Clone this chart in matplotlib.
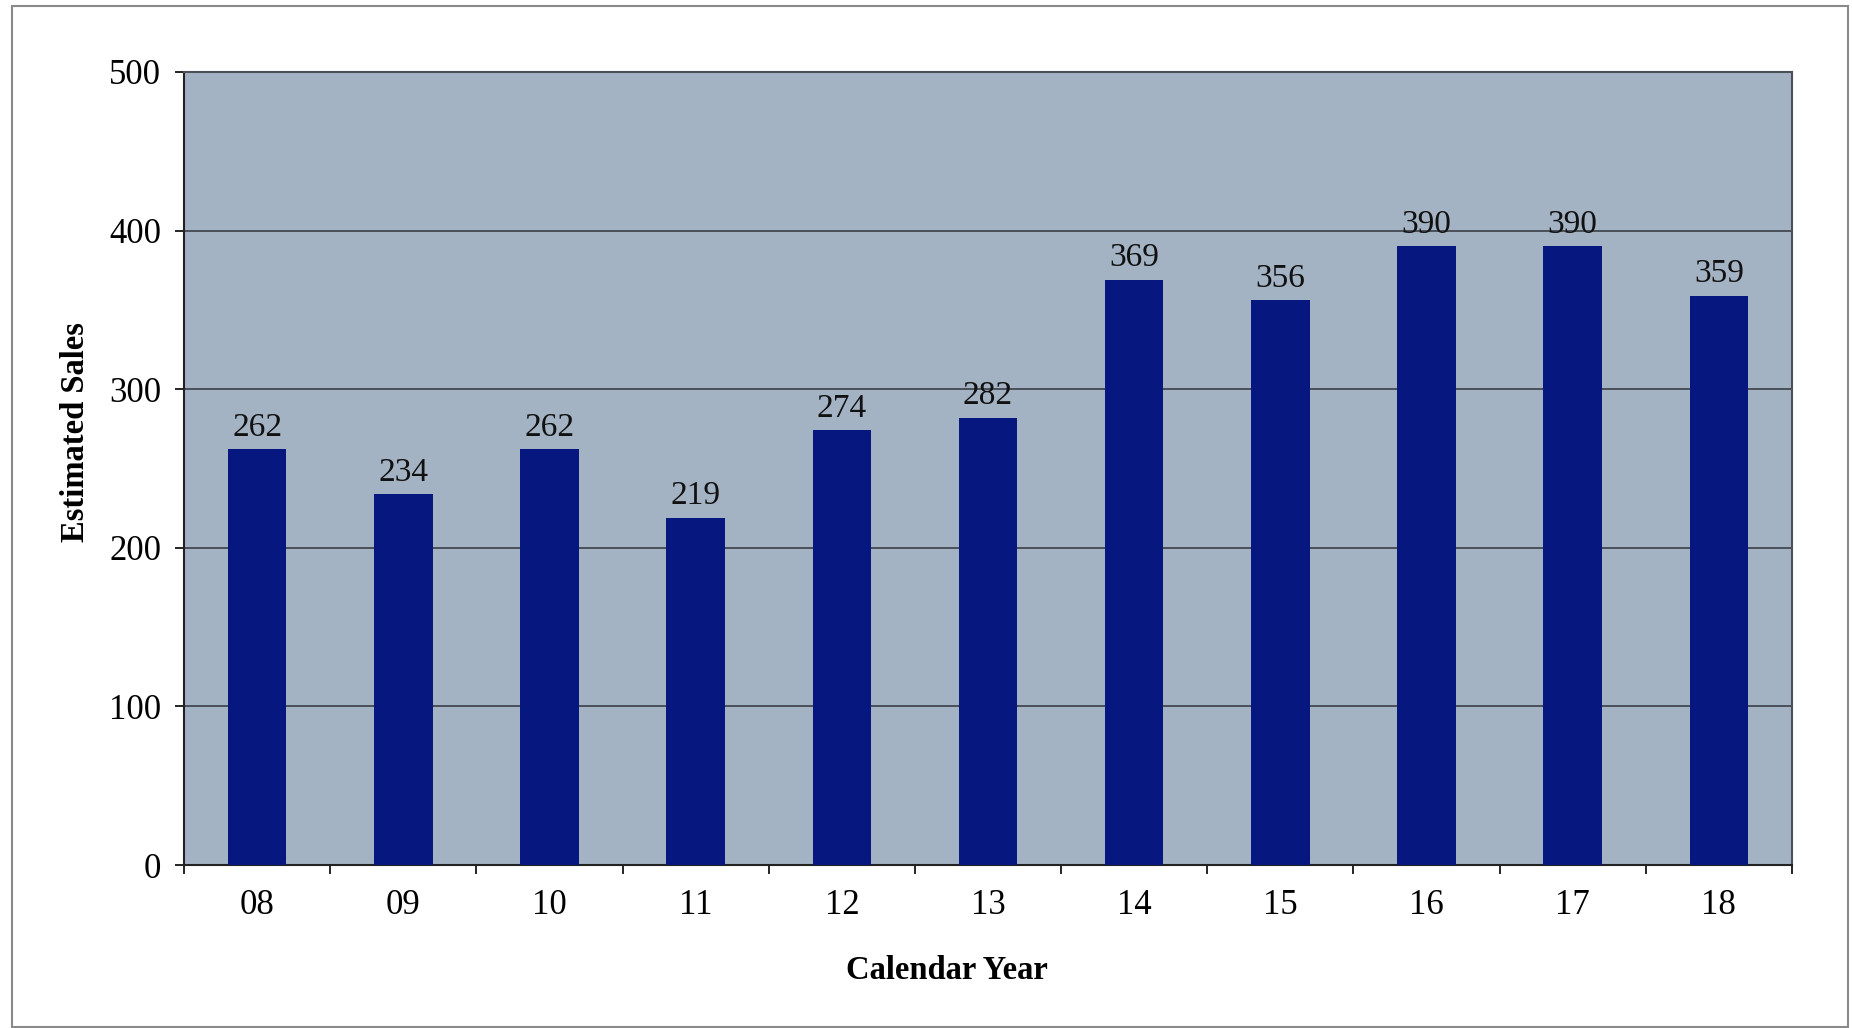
import matplotlib
matplotlib.use("Agg")
import matplotlib.pyplot as plt
from matplotlib.patches import Rectangle

years = ["08", "09", "10", "11", "12", "13", "14", "15", "16", "17", "18"]
sales = [262, 234, 262, 219, 274, 282, 369, 356, 390, 390, 359]
y_ticks = [0, 100, 200, 300, 400, 500]

plt.rcParams["font.family"] = ["Liberation Serif", "DejaVu Serif"]

W, H = 1852, 1028
fig = plt.figure(figsize=(W / 100, H / 100), dpi=100)
fig.patch.set_facecolor("white")

# outer frame around the chart
fig.patches.append(Rectangle((12 / W, 1 - 1027 / H), (1848 - 12) / W, (1027 - 6) / H,
                             transform=fig.transFigure, fill=False,
                             edgecolor="#8a8a8a", linewidth=1.5))

left, right, top, bottom = 184, 1792, 72, 865
ax = fig.add_axes([left / W, 1 - bottom / H, (right - left) / W, (bottom - top) / H])
ax.set_facecolor("#a4b3c4")

x = list(range(len(years)))
ax.bar(x, sales, width=0.40, color="#06187f", zorder=3)

for xi, v in zip(x, sales):
    ax.text(xi, v + 4, str(v), ha="center", va="bottom", fontsize=24,
            color="#111111", zorder=4)

ax.set_xlim(-0.5, len(years) - 0.5)
ax.set_ylim(0, 500)
ax.set_yticks(y_ticks)
ax.set_yticklabels([str(t) for t in y_ticks], fontsize=25)
ax.set_xticks(x)
ax.set_xticklabels(years, fontsize=25)
ax.tick_params(axis="x", length=0, pad=17)
ax.tick_params(axis="y", length=6.5, width=1.2, pad=10, direction="out")

# category separator ticks below the x axis
ax.set_xticks([i - 0.5 for i in range(len(years) + 1)], minor=True)
ax.tick_params(axis="x", which="minor", length=6.5, width=1.2, direction="out")

ax.yaxis.grid(True, color="#3a3f48", linewidth=1.2, zorder=1)
ax.set_axisbelow(True)

for side in ("left", "bottom"):
    ax.spines[side].set_color("#222222")
    ax.spines[side].set_linewidth(1.5)
for side in ("top", "right"):
    ax.spines[side].set_color("#4a5058")
    ax.spines[side].set_linewidth(1.5)

ax.set_xlabel("Calendar Year", fontsize=23.5, fontweight="bold")
ax.set_ylabel("Estimated Sales", fontsize=23.5, fontweight="bold")
ax.xaxis.set_label_coords(0.4745, -0.113)
ax.yaxis.set_label_coords(-0.058, 0.546)

fig.savefig("out.png", dpi=100, facecolor="white")
